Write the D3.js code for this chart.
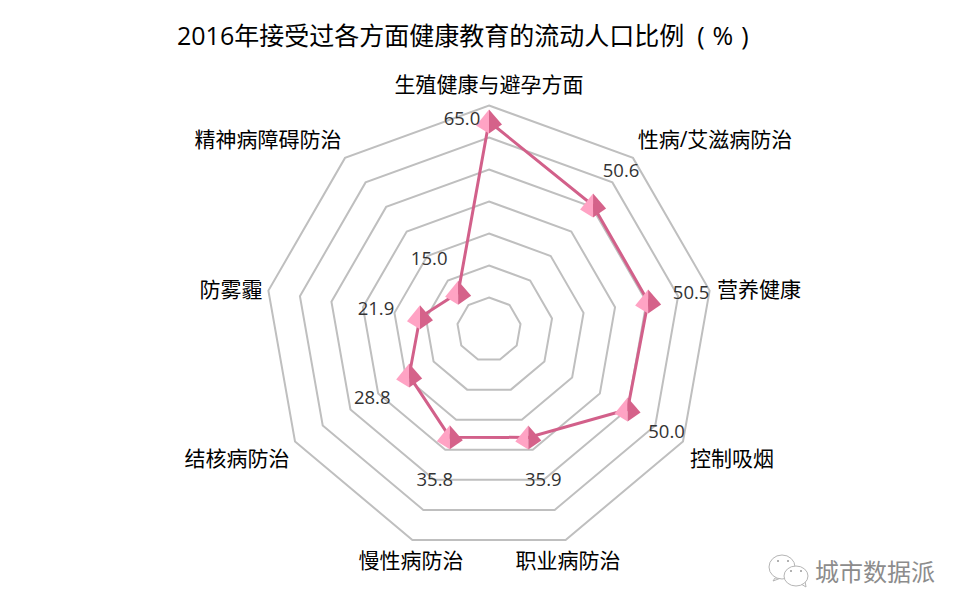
<!DOCTYPE html>
<html>
<head>
<meta charset="utf-8">
<script src="https://cdn.jsdelivr.net/npm/d3@7/dist/d3.min.js"></script>
<style>
  html, body { margin: 0; padding: 0; background: #fff; }
  svg { display: block; }
  text { font-family: "Open Sans", "Noto Sans CJK SC", sans-serif; }
</style>
</head>
<body>
<div id="chart"></div>
<script>
var categories = ['生殖健康与避孕方面', '性病/艾滋病防治', '营养健康', '控制吸烟', '职业病防治',
                  '慢性病防治', '结核病防治', '防雾霾', '精神病障碍防治'];
var values = [65.0, 50.6, 50.5, 50.0, 35.9, 35.8, 28.8, 21.9, 15.0];
var ringTicks = [10, 20, 30, 40, 50, 60, 70];
var titleText = '2016年接受过各方面健康教育的流动人口比例';
var titleUnit = ['(', '%', ')'];
var watermark = '城市数据派';

var w = 966, h = 615;
var cx = 489, cy = 329.5;

var vis = d3.select('#chart').append('svg')
    .attr('width', w)
    .attr('height', h);

var r = d3.scaleLinear().domain([0, 70]).range([0, 224]);
var angle = d3.scaleBand().domain(d3.range(categories.length)).range([0, 2 * Math.PI]).align(0);

var radial = d3.lineRadial()
    .angle(function(d, i) { return angle(i); })
    .radius(function(d) { return r(d); })
    .curve(d3.curveLinearClosed);

var g = vis.append('g').attr('transform', 'translate(' + cx + ',' + cy + ')');

// rings
g.selectAll('.ring')
    .data(ringTicks)
    .enter()
    .append('path')
    .attr('d', function(t) { return radial(categories.map(function() { return t; })); })
    .attr('fill', 'none')
    .attr('stroke', '#bfbfbf')
    .attr('stroke-width', 2);

// series
g.append('path')
    .attr('d', radial(values))
    .attr('fill', 'none')
    .attr('stroke', '#d2608a')
    .attr('stroke-width', 3);

var px = function(v, i) { return r(v) * Math.sin(angle(i)); };
var py = function(v, i) { return -r(v) * Math.cos(angle(i)); };

// pyramid markers
var marker = g.selectAll('.marker')
    .data(values)
    .enter()
    .append('g')
    .attr('transform', function(d, i) { return 'translate(' + px(d, i) + ',' + py(d, i) + ')'; });

marker.append('path')
    .attr('d', 'M0,-12 L-13,4 L0,12 Z')
    .attr('fill', '#ffa3c4');
marker.append('path')
    .attr('d', 'M0,-12 L13,3 L0,12 Z')
    .attr('fill', '#d5628a');

// value labels, offset from their point by hand
var labelDx = [-27, 28, 43, 39, 15, -15, -37, -44, -29];
var labelDy = [-4, -36, -10, 21, 41, 41, 21, -10, -35];

g.selectAll('.val')
    .data(values)
    .enter()
    .append('text')
    .attr('x', function(d, i) { return px(d, i) + labelDx[i]; })
    .attr('y', function(d, i) { return py(d, i) + labelDy[i]; })
    .attr('text-anchor', 'middle')
    .attr('dominant-baseline', 'central')
    .attr('font-size', 18.5)
    .attr('fill', '#333')
    .text(function(d) { return d.toFixed(1); });

// category labels
var catX = [0, 226, 270, 243, 79, -78, -252, -258, -221];
var catY = [-246, -191, -41, 128, 230, 230, 128, -41, -191];

g.selectAll('.cat')
    .data(categories)
    .enter()
    .append('text')
    .attr('x', function(d, i) { return catX[i]; })
    .attr('y', function(d, i) { return catY[i]; })
    .attr('text-anchor', 'middle')
    .attr('dominant-baseline', 'central')
    .attr('font-size', 21)
    .attr('fill', '#000')
    .text(function(d) { return d; });

var title = vis.append('text')
    .attr('x', 177)
    .attr('y', 35)
    .attr('dominant-baseline', 'central')
    .attr('font-size', 25)
    .attr('fill', '#000');

title.append('tspan').text(titleText);
title.selectAll('.unit')
    .data(titleUnit)
    .enter()
    .append('tspan')
    .attr('dx', function(d, i) { return [13, 8, 8][i]; })
    .text(function(d) { return d; });

// watermark
var wm = vis.append('g').attr('fill', '#fff').attr('stroke', '#b5b5b5').attr('stroke-width', 1);
wm.append('path').attr('d', 'M775,578 L773,581 L781,578 Z');
wm.append('ellipse').attr('cx', 782).attr('cy', 567).attr('rx', 13).attr('ry', 12);
wm.append('path').attr('d', 'M801,584 L806,587 L805,581 Z');
wm.append('ellipse').attr('cx', 796).attr('cy', 576).attr('rx', 12).attr('ry', 10);
wm.selectAll('.eye')
    .data([[778, 561], [788, 561], [791, 571], [801, 571]])
    .enter()
    .append('circle')
    .attr('cx', function(d) { return d[0]; })
    .attr('cy', function(d) { return d[1]; })
    .attr('r', 1)
    .attr('fill', '#999')
    .attr('stroke', 'none');

vis.append('text')
    .attr('x', 815)
    .attr('y', 571)
    .attr('dominant-baseline', 'central')
    .attr('font-size', 24)
    .attr('fill', '#8c8c8c')
    .text(watermark);
</script>
</body>
</html>
